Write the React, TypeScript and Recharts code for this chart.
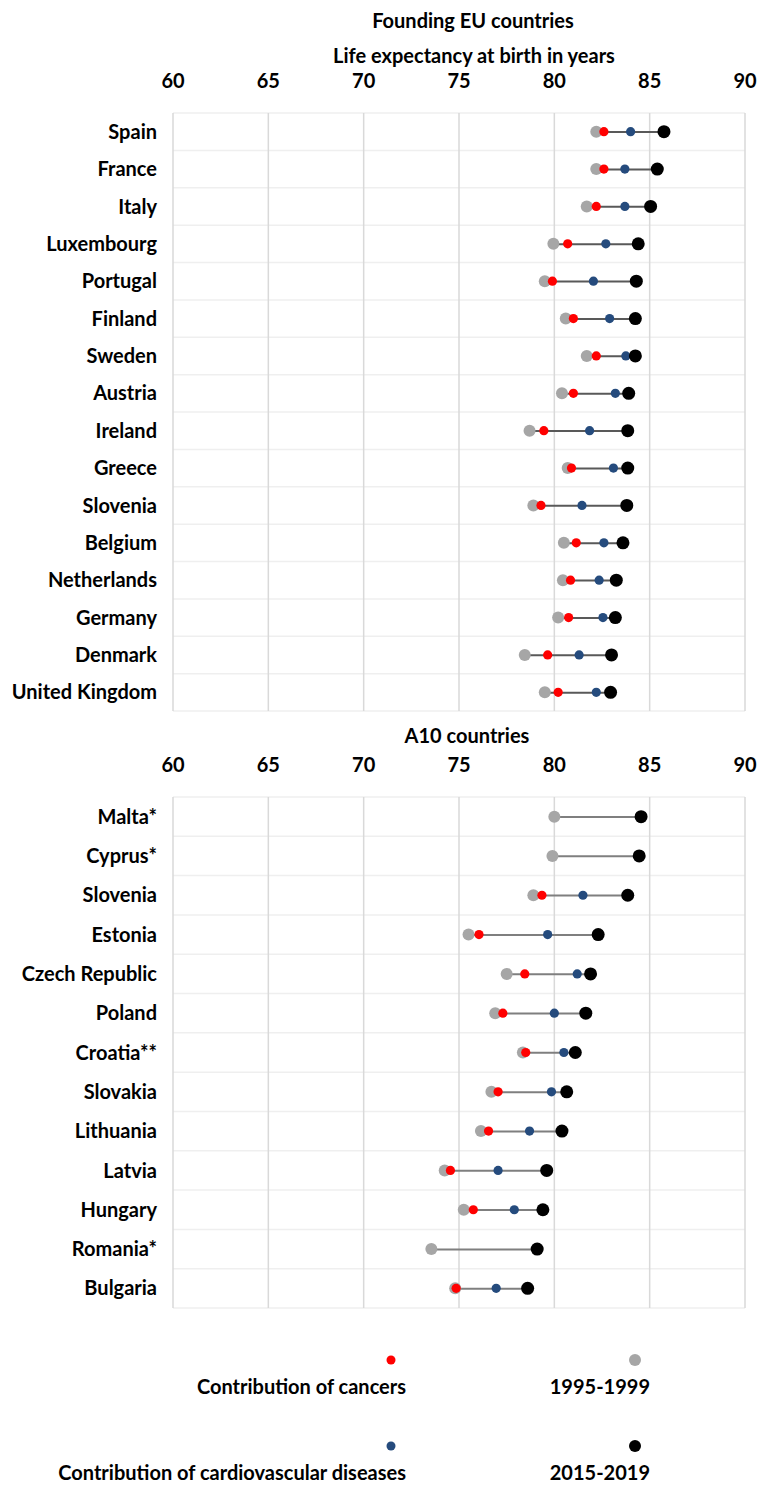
import { ComposedChart, Bar, Line, XAxis, YAxis, CartesianGrid } from 'recharts'

const FONT = 'Lato, "Open Sans", sans-serif'
const FONT_SIZE = 20

// axis ticks shared by both panels
const TICKS = [60, 65, 70, 75, 80, 85, 90]

// Founding EU countries
const foundingNames = [
  'Spain', 'France', 'Italy', 'Luxembourg', 'Portugal', 'Finland', 'Sweden', 'Austria',
  'Ireland', 'Greece', 'Slovenia', 'Belgium', 'Netherlands', 'Germany', 'Denmark', 'United Kingdom',
]
const foundingBase = [82.2, 82.2, 81.7, 79.95, 79.5, 80.6, 81.7, 80.4, 78.7, 80.7, 78.9, 80.5, 80.45, 80.2, 78.45, 79.5]
const foundingCancer = [82.6, 82.6, 82.2, 80.7, 79.9, 81.0, 82.2, 81.0, 79.45, 80.9, 79.3, 81.15, 80.85, 80.75, 79.65, 80.2]
const foundingCvd = [84.0, 83.7, 83.7, 82.7, 82.05, 82.9, 83.75, 83.2, 81.85, 83.1, 81.45, 82.6, 82.35, 82.55, 81.3, 82.2]
const foundingLatest = [85.75, 85.4, 85.05, 84.4, 84.3, 84.25, 84.25, 83.9, 83.85, 83.85, 83.8, 83.6, 83.25, 83.2, 83.0, 82.95]

// A10 countries (null = not available)
const a10Names = [
  'Malta*', 'Cyprus*', 'Slovenia', 'Estonia', 'Czech Republic', 'Poland', 'Croatia**',
  'Slovakia', 'Lithuania', 'Latvia', 'Hungary', 'Romania*', 'Bulgaria',
]
const a10Base = [80.0, 79.9, 78.9, 75.5, 77.5, 76.9, 78.35, 76.7, 76.15, 74.25, 75.25, 73.55, 74.8]
const a10Cancer = [null, null, 79.35, 76.05, 78.45, 77.3, 78.5, 77.05, 76.55, 74.55, 75.75, null, 74.85]
const a10Cvd = [null, null, 81.5, 79.65, 81.2, 80.0, 80.5, 79.85, 78.7, 77.05, 77.9, null, 76.95]
const a10Latest = [84.55, 84.45, 83.85, 82.3, 81.9, 81.65, 81.1, 80.65, 80.4, 79.6, 79.4, 79.1, 78.6]

const legendItems = [
  { label: 'Contribution of cancers', color: '#ff0000', r: 4.5, col: 0, row: 0 },
  { label: '1995-1999', color: '#a6a6a6', r: 6, col: 1, row: 0 },
  { label: 'Contribution of cardiovascular diseases', color: '#254b7d', r: 4.5, col: 0, row: 1 },
  { label: '2015-2019', color: '#000000', r: 6, col: 1, row: 1 },
]

interface Row {
  name: string
  base: number
  cancer: number | null
  cvd: number | null
  latest: number
}

function build(names: string[], base: number[], cancer: (number | null)[], cvd: (number | null)[], latest: number[]): Row[] {
  return names.map((name, i) => ({ name, base: base[i], cancer: cancer[i], cvd: cvd[i], latest: latest[i] }))
}

const foundingData = build(foundingNames, foundingBase, foundingCancer, foundingCvd, foundingLatest)
const a10Data = build(a10Names, a10Base, a10Cancer, a10Cvd, a10Latest)

const tickStyle = { fill: '#000', fontSize: FONT_SIZE, fontWeight: 700, fontFamily: FONT }

function Panel({ data, height, top, lineColor }: { data: Row[]; height: number; top: number; lineColor: string }) {
  const n = data.length
  return (
    <ComposedChart
      layout="vertical"
      width={769}
      height={height}
      data={data}
      margin={{ top, right: 24, bottom: 1, left: 0 }}
    >
      <CartesianGrid
        vertical={false}
        stroke="#efefef"
        strokeWidth={1.5}
        horizontalCoordinatesGenerator={({ offset }: any) =>
          Array.from({ length: n + 1 }, (_, i) => offset.top + (i * offset.height) / n)
        }
      />
      <CartesianGrid horizontal={false} stroke="#d9d9d9" strokeWidth={1.5} />
      <XAxis
        type="number"
        orientation="top"
        domain={[60, 90]}
        ticks={TICKS}
        axisLine={false}
        tickLine={false}
        tickSize={0}
        tickMargin={25}
        height={51}
        tick={tickStyle}
      />
      <YAxis
        type="category"
        dataKey="name"
        width={173}
        interval={0}
        axisLine={false}
        tickLine={false}
        tickSize={0}
        tickMargin={16}
        tick={tickStyle}
      />
      <Bar dataKey={(d: Row) => [d.base, d.latest]} fill={lineColor} barSize={2} isAnimationActive={false} />
      <Line dataKey="base" stroke="none" dot={{ r: 6, fill: '#a6a6a6', stroke: 'none' }} activeDot={false} isAnimationActive={false} />
      <Line dataKey="cancer" stroke="none" dot={{ r: 4.6, fill: '#ff0000', stroke: 'none' }} activeDot={false} isAnimationActive={false} />
      <Line dataKey="cvd" stroke="none" dot={{ r: 4.6, fill: '#254b7d', stroke: 'none' }} activeDot={false} isAnimationActive={false} />
      <Line dataKey="latest" stroke="none" dot={{ r: 6.5, fill: '#000000', stroke: 'none' }} activeDot={false} isAnimationActive={false} />
    </ComposedChart>
  )
}

function Title({ text, x, y }: { text: string; x: number; y: number }) {
  return (
    <div
      style={{
        position: 'absolute',
        left: x,
        top: y - 12,
        transform: 'translateX(-50%)',
        whiteSpace: 'nowrap',
        fontFamily: FONT,
        fontWeight: 700,
        fontSize: FONT_SIZE,
        lineHeight: '24px',
      }}
    >
      {text}
    </div>
  )
}

export default function App() {
  return (
    <div style={{ position: 'absolute', left: 0, top: 0, width: 769, height: 1486, background: '#fff' }}>
      <Title text="Founding EU countries" x={473} y={20} />
      <Title text="Life expectancy at birth in years" x={474} y={55} />
      <div style={{ position: 'absolute', left: 0, top: 0 }}>
        <Panel data={foundingData} height={712} top={62} lineColor="#595959" />
      </div>
      <Title text="A10 countries" x={467} y={735} />
      <div style={{ position: 'absolute', left: 0, top: 712 }}>
        <Panel data={a10Data} height={597} top={34} lineColor="#7f7f7f" />
      </div>
      <svg style={{ position: 'absolute', left: 0, top: 1320 }} width={769} height={166}>
        {legendItems.map((item) => {
          const cx = item.col === 0 ? 391 : 635
          const cy = 40 + item.row * 86
          return (
            <g key={item.label}>
              <circle cx={cx} cy={cy} r={item.r} fill={item.color} />
              <text
                x={cx + 15}
                y={cy + 34}
                textAnchor="end"
                fontFamily={FONT}
                fontWeight={700}
                fontSize={FONT_SIZE}
                fill="#000"
              >
                {item.label}
              </text>
            </g>
          )
        })}
      </svg>
    </div>
  )
}
